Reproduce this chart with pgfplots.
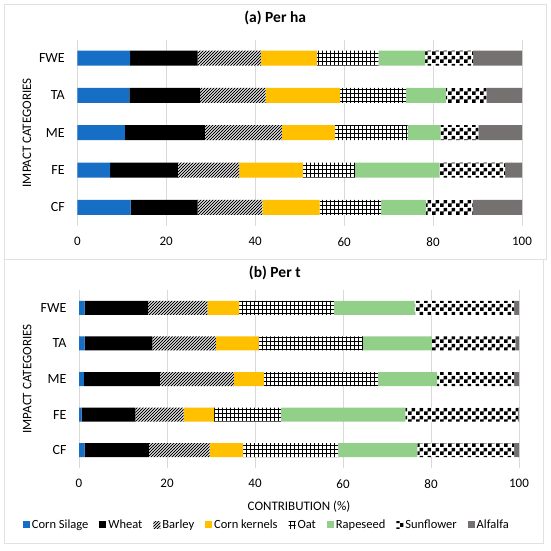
\documentclass[border=0pt]{standalone}
\usepackage{pgfplots}
\pgfplotsset{compat=1.18}
\usepackage{pgfplotstable}
\usetikzlibrary{patterns}
\usepackage{fontspec}
\setmainfont{Carlito}

\definecolor{csblue}{RGB}{22,111,196}
\definecolor{ckyel}{RGB}{255,192,0}
\definecolor{rapeg}{RGB}{146,208,138}
\definecolor{alfg}{RGB}{118,113,113}
\definecolor{gridc}{RGB}{217,217,217}
\definecolor{boxc}{RGB}{225,225,225}

\pgfdeclarepatternformonly{barleylines}{\pgfqpoint{-1pt}{-1pt}}{\pgfqpoint{4pt}{4pt}}{\pgfqpoint{3pt}{3pt}}{%
  \pgfsetlinewidth{1pt}%
  \pgfpathmoveto{\pgfqpoint{0pt}{0pt}}%
  \pgfpathlineto{\pgfqpoint{3.1pt}{3.1pt}}%
  \pgfusepath{stroke}}
\pgfdeclarepatternformonly{oatgrid}{\pgfqpoint{-1pt}{-1pt}}{\pgfqpoint{5pt}{5pt}}{\pgfqpoint{4pt}{4pt}}{%
  \pgfsetlinewidth{0.8pt}%
  \pgfpathmoveto{\pgfqpoint{2pt}{-0.1pt}}\pgfpathlineto{\pgfqpoint{2pt}{4.1pt}}%
  \pgfpathmoveto{\pgfqpoint{-0.1pt}{2pt}}\pgfpathlineto{\pgfqpoint{4.1pt}{2pt}}%
  \pgfusepath{stroke}}
\pgfdeclarepatternformonly{sunchecker}{\pgfpointorigin}{\pgfqpoint{8pt}{8pt}}{\pgfqpoint{8pt}{8pt}}{%
  \pgfpathrectangle{\pgfpointorigin}{\pgfqpoint{4pt}{4pt}}%
  \pgfpathrectangle{\pgfqpoint{4pt}{4pt}}{\pgfqpoint{4pt}{4pt}}%
  \pgfusepath{fill}}

% per ha
\pgfplotstableread{
y  cs    wh    ba    ck    oa    ra    su    al
0  12.0  15.05 14.55 12.9  13.8  10.1  10.5  11.1
1  7.4   15.2  13.8  14.3  11.7  19.1  14.7  3.8
2  10.7  18.0  17.3  11.9  16.4  7.4   8.5   9.8
3  11.7  15.9  14.75 16.75 14.8  9.0   9.1   8.0
4  11.9  15.15 14.25 12.6  13.8  10.5  10.8  11.0
}\perha
% per t
\pgfplotstableread{
y  cs    wh    ba    ck    oa    ra    su    al
0  1.3   14.6  13.8  7.6   21.6  18.0  22.0  1.1
1  0.6   12.2  11.0  6.9   15.2  28.3  25.6  0.2
2  1.1   17.3  16.8  6.8   25.9  13.5  17.5  1.1
3  1.3   15.4  14.4  9.7   23.7  15.7  19.0  0.8
4  1.3   14.4  13.5  7.2   21.5  18.4  22.6  1.1
}\pert

\pgfplotsset{
  myax/.style={
    xbar stacked, scale only axis,
    xmin=0, xmax=100, ymin=-0.5, ymax=4.5,
    ytick={0,...,4}, yticklabels={CF,FE,ME,TA,FWE},
    xtick={0,20,...,100},
    xmajorgrids, grid style={gridc, line width=0.9pt},
    axis line style={draw=none},
    major tick length=0pt,
    /pgf/number format/assume math mode=true,
    xticklabel style={font=\fontsize{13}{15}\selectfont, yshift=-8pt},
    yticklabel style={font=\fontsize{14}{16}\selectfont, xshift=-9pt},
    ylabel={IMPACT CATEGORIES},
    ylabel style={font=\fontsize{13}{15}\selectfont, anchor=center},
    title style={font=\fontsize{15.5}{18}\selectfont\bfseries, anchor=center},
    every axis plot/.append style={draw=none},
    legend image code/.code={\draw[#1,draw=none] (0pt,-3.5pt) rectangle (7pt,3.5pt);},
  },
  pcs/.style={fill=csblue},
  pwh/.style={fill=black},
  pba/.style={preaction={fill=white}, pattern=barleylines, pattern color=black},
  pck/.style={fill=ckyel},
  poa/.style={preaction={fill=white}, pattern=oatgrid, pattern color=black},
  pra/.style={fill=rapeg},
  psu/.style={preaction={fill=white}, pattern=sunchecker, pattern color=black},
  pal/.style={fill=alfg},
}

\begin{document}
\begin{tikzpicture}[x=1pt,y=1pt]
\useasboundingbox (0,0) rectangle (550,551);
\fill[white] (0,0) rectangle (550,551);
\draw[boxc, line width=0.9pt] (4,292) rectangle (546,547);
\draw[boxc, line width=0.9pt] (4,8) rectangle (543,292);

\begin{axis}[myax,
  at={(77.3pt,325pt)}, anchor=south west,
  width=444.7pt, height=186.5pt, bar width=15pt,
  title={(a) Per ha},
  title style={at={(axis description cs:0.445,1.083)}},
  ylabel style={at={(axis description cs:-0.113,0.5)}},
]
\addplot[pcs] table[x=cs,y=y]{\perha};
\addplot[pwh] table[x=wh,y=y]{\perha};
\addplot[pba] table[x=ba,y=y]{\perha};
\addplot[pck] table[x=ck,y=y]{\perha};
\addplot[poa] table[x=oa,y=y]{\perha};
\addplot[pra] table[x=ra,y=y]{\perha};
\addplot[psu] table[x=su,y=y]{\perha};
\addplot[pal] table[x=al,y=y]{\perha};
\end{axis}

\begin{axis}[myax,
  at={(79pt,83pt)}, anchor=south west,
  width=440pt, height=178pt, bar width=14pt,
  title={(b) Per t},
  title style={at={(axis description cs:0.445,1.062)}},
  ylabel style={at={(axis description cs:-0.118,0.5)}},
  xlabel={CONTRIBUTION (\%)},
  xlabel style={font=\fontsize{13}{15}\selectfont, at={(axis description cs:0.5,-0.219)}, anchor=center},
  legend columns=8,
  legend style={at={(axis description cs:0.427,-0.32)}, anchor=center, draw=none, fill=none,
    font=\fontsize{12.5}{14}\selectfont,
    /tikz/every even column/.append style={column sep=9pt},
    /tikz/every odd column/.append style={column sep=0pt}},
]
\addplot[pcs] table[x=cs,y=y]{\pert};
\addplot[pwh] table[x=wh,y=y]{\pert};
\addplot[pba] table[x=ba,y=y]{\pert};
\addplot[pck] table[x=ck,y=y]{\pert};
\addplot[poa] table[x=oa,y=y]{\pert};
\addplot[pra] table[x=ra,y=y]{\pert};
\addplot[psu] table[x=su,y=y]{\pert};
\addplot[pal] table[x=al,y=y]{\pert};
\legend{Corn Silage, Wheat, Barley, Corn kernels, Oat, Rapeseed, Sunflower, Alfalfa}
\end{axis}
\end{tikzpicture}
\end{document}
